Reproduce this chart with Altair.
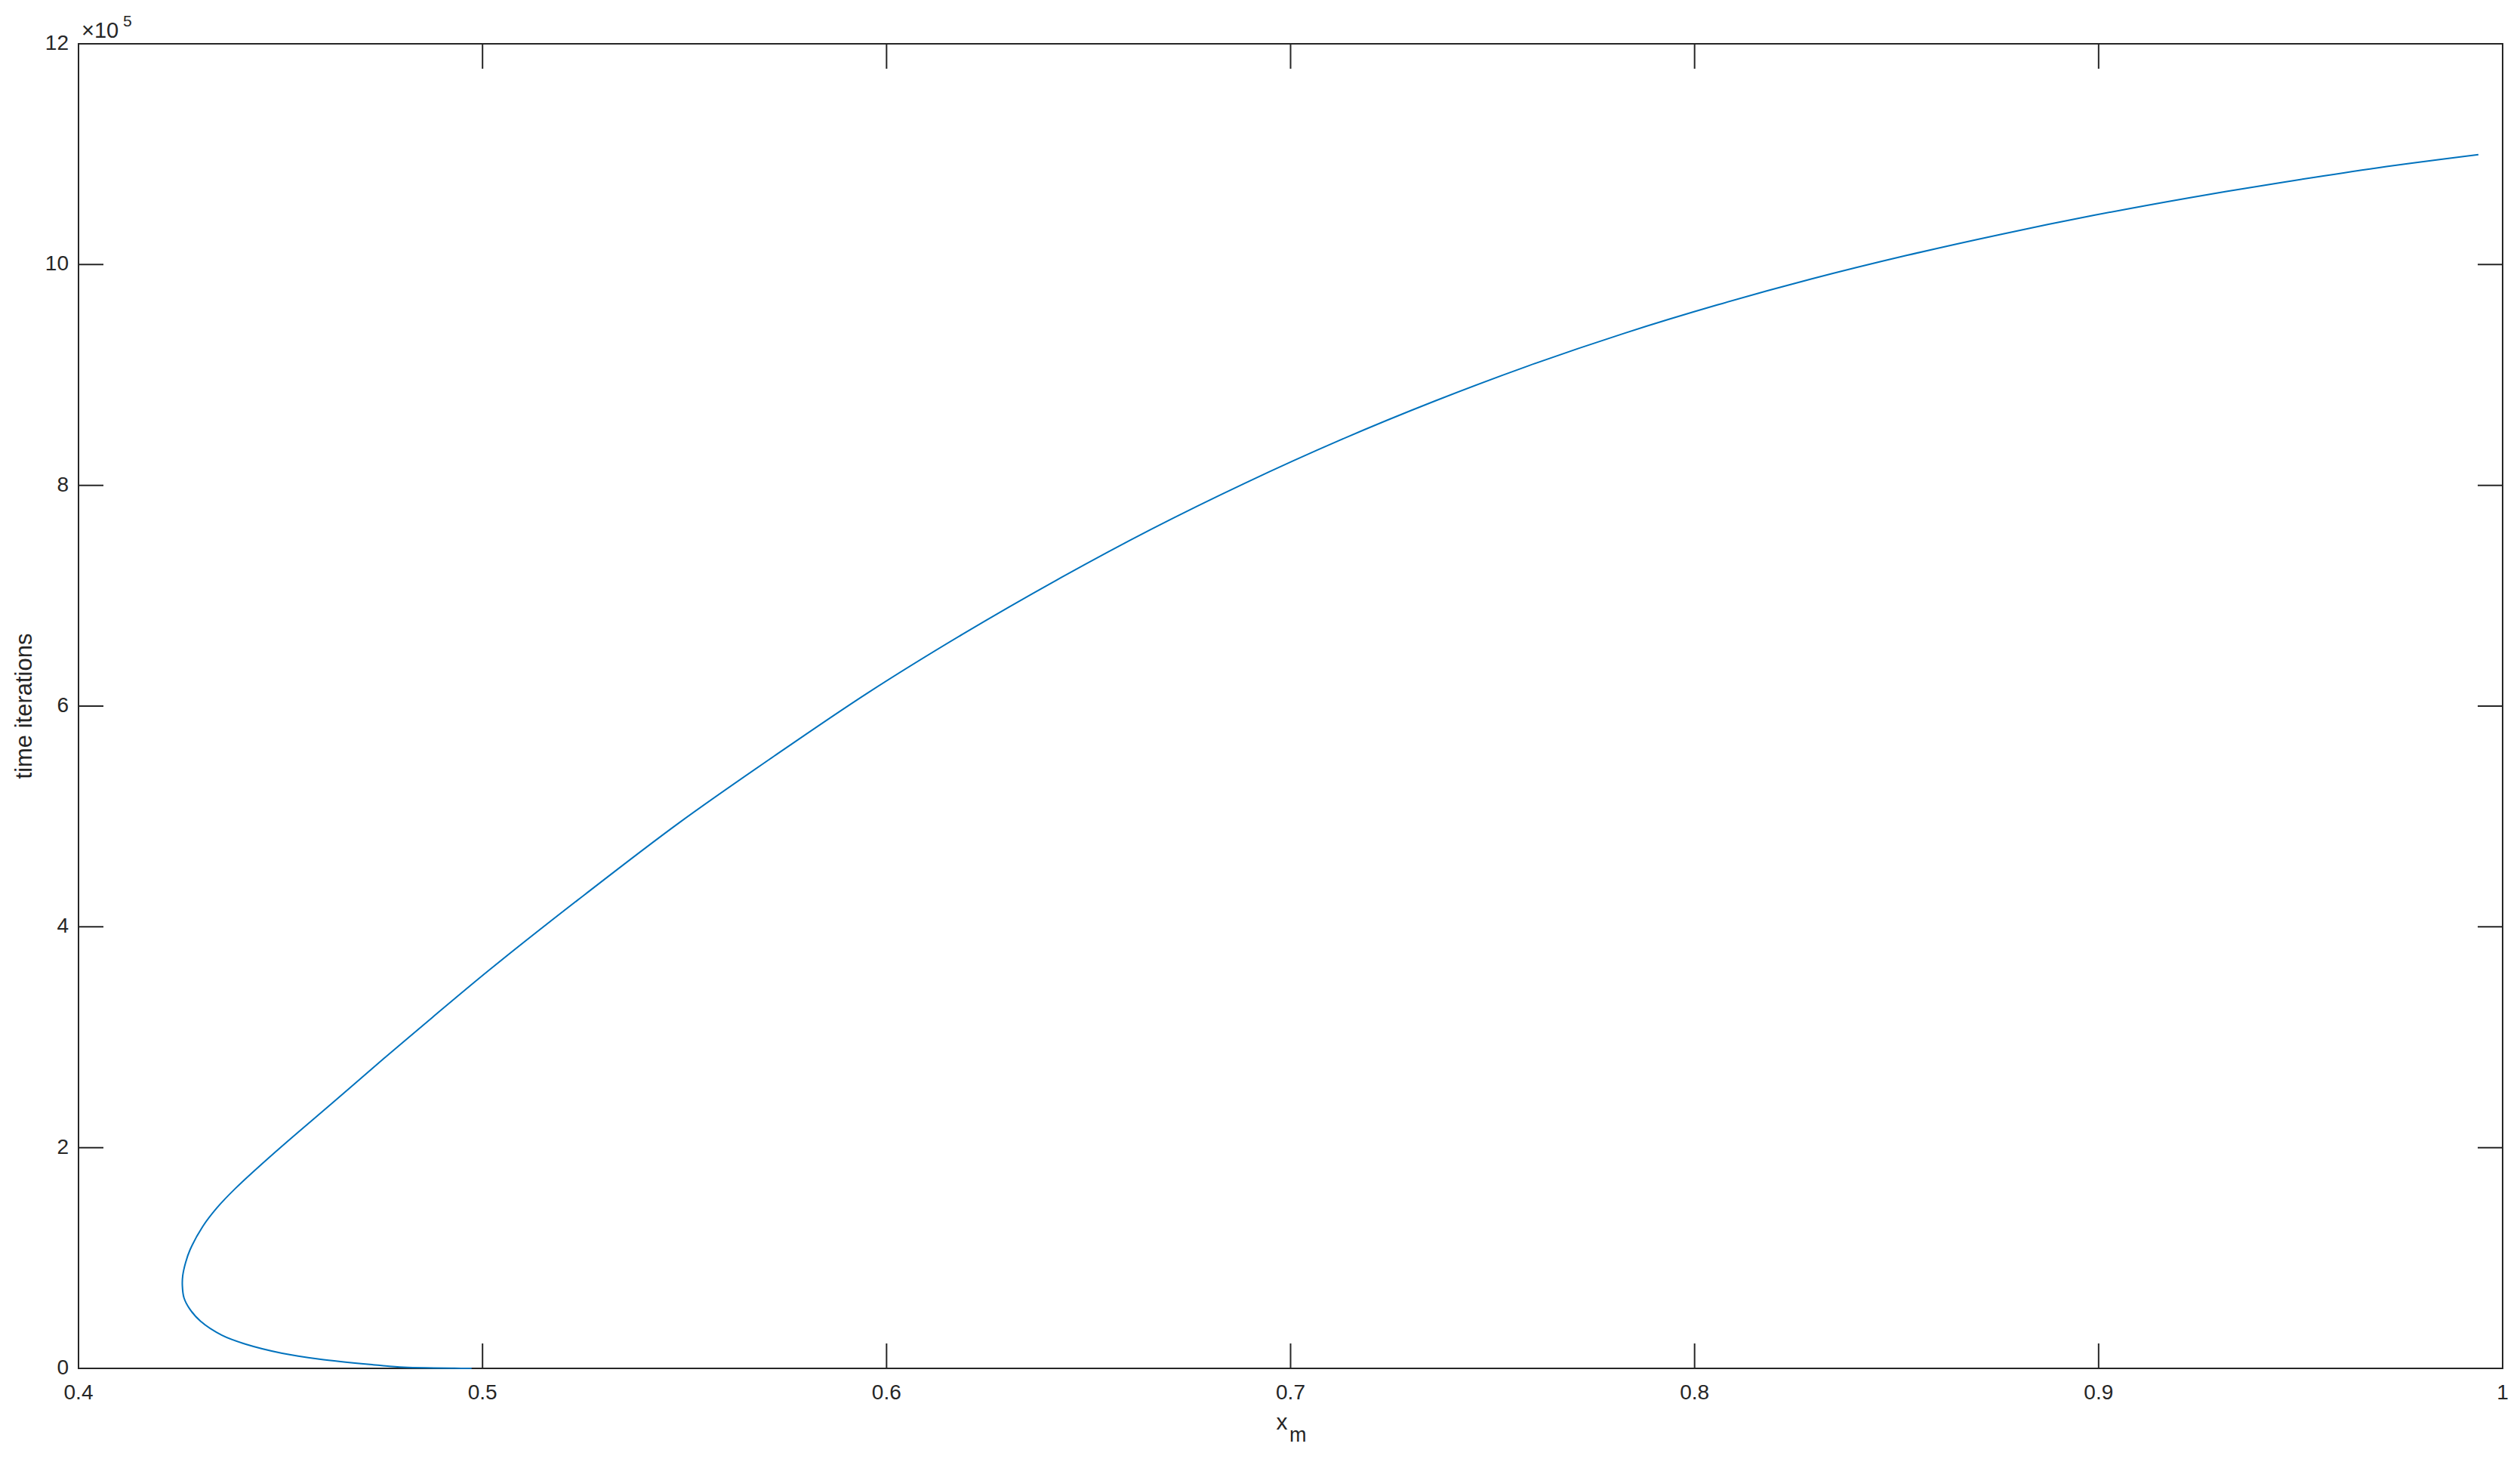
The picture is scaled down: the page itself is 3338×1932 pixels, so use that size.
import altair as alt
import pandas as pd

# ---- data ----
x_m = [0.4973, 0.4930, 0.4880, 0.4805, 0.4729, 0.4596, 0.4504, 0.4414, 0.4355,
       0.4302, 0.4275, 0.4261, 0.4257, 0.4258, 0.4265, 0.4276, 0.4307, 0.4343,
       0.4388, 0.4492, 0.4623, 0.4756, 0.4876, 0.5020, 0.5254, 0.5487, 0.5721,
       0.5954, 0.6188, 0.6422, 0.6655, 0.6889, 0.7122, 0.7356, 0.7589, 0.7823,
       0.8056, 0.8290, 0.8524, 0.8757, 0.8991, 0.9224, 0.9458, 0.9691, 0.9940]
time_iterations = [0, 100, 400, 1000, 3300, 8400, 13700, 21900, 30000,
                   42700, 54000, 64000, 75000, 84000, 95800, 107400, 128300, 145600,
                   162900, 197600, 238800, 280800, 318000, 361900, 429500, 494400, 554500,
                   612100, 665100, 714400, 760200, 802300, 840900, 876200, 908300, 937400,
                   963400, 987000, 1008200, 1027300, 1044800, 1060500, 1074700, 1087700, 1099600]
x_tick_values = [0.4, 0.5, 0.6, 0.7, 0.8, 0.9, 1.0]
y_tick_values = [0, 200000, 400000, 600000, 800000, 1000000, 1200000]
x_label_main = ["x"]
x_label_sub = ["m"]
exp_base = ["\u00d710"]
exp_power = ["5"]
y_title = ["time iterations"]

# ---- styling ----
W, H = 3211, 1754
TICK = 33
AX = "#262626"
BLUE = "#0072BD"
FONT = "Liberation Sans"

curve = pd.DataFrame({"i": list(range(len(x_m))), "x": x_m, "t": time_iterations})
xt = pd.DataFrame({"v": x_tick_values})
yt = pd.DataFrame({"v": y_tick_values})

x_scale = alt.Scale(domain=[0.4, 1.0], nice=False, zero=False)
y_scale = alt.Scale(domain=[0, 1200000], nice=False, zero=False)

line = alt.Chart(curve).mark_line(color=BLUE, strokeWidth=2, interpolate="catmull-rom").encode(
    x=alt.X("x:Q", scale=x_scale, axis=None),
    y=alt.Y("t:Q", scale=y_scale, axis=None),
    order="i:Q",
)

tick_mark = dict(color=AX, strokeWidth=2)
bottom_ticks = alt.Chart(xt).mark_rule(**tick_mark).encode(
    x=alt.X("v:Q", scale=x_scale, axis=None), y=alt.value(H), y2=alt.value(H - TICK))
top_ticks = alt.Chart(xt).mark_rule(**tick_mark).encode(
    x=alt.X("v:Q", scale=x_scale, axis=None), y=alt.value(0), y2=alt.value(TICK))
left_ticks = alt.Chart(yt).mark_rule(**tick_mark).encode(
    y=alt.Y("v:Q", scale=y_scale, axis=None), x=alt.value(0), x2=alt.value(TICK))
right_ticks = alt.Chart(yt).mark_rule(**tick_mark).encode(
    y=alt.Y("v:Q", scale=y_scale, axis=None), x=alt.value(W - TICK), x2=alt.value(W))

x_labels = alt.Chart(xt).transform_calculate(
    lab="format(datum.v, '.1~f')"
).mark_text(font=FONT, fontSize=28, color=AX, align="center", baseline="alphabetic").encode(
    x=alt.X("v:Q", scale=x_scale, axis=None), y=alt.value(H + 41), text="lab:N")

y_labels = alt.Chart(yt).transform_calculate(
    lab="format(datum.v / 100000, 'd')"
).mark_text(font=FONT, fontSize=28, color=AX, align="right", baseline="middle").encode(
    y=alt.Y("v:Q", scale=y_scale, axis=None), x=alt.value(-13), text="lab:N")


def label(values, x, y, size, align, angle=0):
    return alt.Chart(pd.DataFrame({"s": values})).mark_text(
        font=FONT, fontSize=size, color=AX, align=align, baseline="alphabetic", angle=angle
    ).encode(text="s:N", x=alt.value(x), y=alt.value(y))


t_x = label(x_label_main, 1594, 1835, 30, "center")
t_m = label(x_label_sub, 1604, 1851, 27, "left")
t_e = label(exp_base, 4, -8, 29, "left")
t_p = label(exp_power, 59, -23, 21, "left")
t_y = label(y_title, -62, H / 2, 31, "center", angle=270)

chart = alt.layer(
    line, bottom_ticks, top_ticks, left_ticks, right_ticks,
    x_labels, y_labels, t_x, t_m, t_e, t_p, t_y
).properties(
    width=W, height=H,
    autosize=alt.AutoSizeParams(type="none"),
    padding={"left": 96, "top": 50, "right": 15, "bottom": 110},
    background="white",
).configure_view(stroke=AX, strokeWidth=2)

chart.save("out.html", embed_options={"renderer": "svg", "actions": False})
